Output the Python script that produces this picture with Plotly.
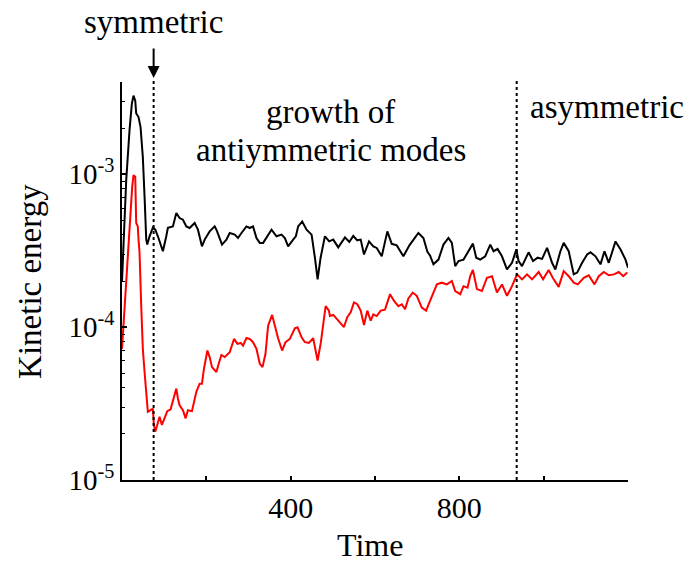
"""
Kinetic energy vs time: total (black) and antisymmetric part (red), log scale.
"""

import plotly.graph_objects as go

# energies are stored in units of 1e-4
ENERGY_UNIT = 1e-4

time_total = [
    0, 10.0, 17.8, 23.3, 27.3, 31.4, 33.7, 39.2, 44.0, 49.4, 53.5, 57.5, 59.9,
    65.4, 73.2, 78.9, 85.1, 97.0, 105.0, 108.8, 120.7, 128.8, 136.6, 144.5,
    152.6, 160.4, 172.3, 180.1, 189.6, 196.1, 207.9, 219.8, 223.9, 231.7,
    237.2, 247.6, 255.5, 267.3, 275.2, 283.3, 295.1, 303.0, 310.8, 318.9,
    326.8, 334.6, 346.5, 354.6, 366.4, 378.3, 386.2, 394.0, 405.9, 412.3,
    417.8, 427.3, 437.7, 449.6, 457.5, 463.9, 471.0, 481.2, 491.4, 501.0,
    512.8, 528.8, 539.0, 548.5, 558.0, 566.1, 573.9, 585.8, 596.0, 604.1,
    616.0, 629.3, 639.7, 651.6, 667.3, 681.6, 692.7, 702.9, 714.8, 724.3,
    730.7, 738.6, 750.5, 762.3, 774.2, 782.3, 790.2, 798.0, 809.9, 821.8,
    832.2, 840.1, 849.6, 861.4, 873.3, 881.2, 890.7, 901.1, 913.0, 924.9,
    935.1, 940.6, 948.6, 964.3, 974.8, 985.7, 996.2, 1008.1, 1019.9, 1027.8,
    1039.7, 1047.5, 1059.4, 1071.3, 1079.4, 1091.2, 1103.1, 1111.0, 1122.9,
    1134.7, 1144.2, 1154.4, 1170.4, 1182.3, 1194.1, 1200.0,
]
ke_total = [
    1.99, 9.14, 19.3, 28.8, 32.6, 30.2, 24.9, 23.6, 20.3, 12.9, 7.12, 3.73, 3.46,
    3.92, 4.46, 4.33, 3.92, 3.13, 3.92, 4.46, 4.55, 5.56, 5.16, 5.03,
    4.55, 4.44, 4.79, 4.33, 3.37, 3.73, 4.22, 4.55, 4.33, 3.73,
    3.46, 3.73, 4.12, 4.02, 3.82, 4.12, 4.55, 4.44, 4.55, 3.82,
    3.55, 3.55, 4.02, 4.33, 3.92, 4.02, 3.82, 3.37, 3.73, 3.92,
    4.55, 4.90, 4.33, 4.02, 2.84, 2.05, 2.84, 3.92, 3.63, 3.73,
    3.32, 3.86, 3.60, 3.94, 3.69, 3.73, 2.98, 3.63, 3.37, 3.29,
    2.90, 4.22, 3.50, 3.42, 2.90, 3.42, 3.77, 4.12, 3.82, 3.10,
    2.93, 2.57, 2.76, 3.46, 3.82, 3.55, 2.50, 2.70, 2.76, 3.13,
    3.51, 2.84, 2.76, 2.90, 3.46, 3.13, 3.24, 2.90, 2.38, 2.63,
    3.21, 2.70, 2.50, 3.08, 2.70, 2.84, 2.79, 3.29, 2.63, 2.38,
    3.13, 3.55, 3.13, 2.21, 2.27, 2.63, 2.98, 3.08, 2.90,
    2.57, 3.13, 2.63, 3.63, 3.21, 2.76, 2.44,
]

time_anti = [
    0, 7.1, 13.8, 20.2, 24.2, 27.3, 31.4, 33.7, 37.5, 39.2, 41.6, 45.6, 49.4,
    53.5, 57.5, 61.3, 67.7, 73.2, 75.6, 78.9, 83.6, 89.1, 94.6, 101.0, 107.4,
    115.3, 123.1, 128.8, 132.6, 136.6, 144.5, 150.9, 156.4, 165.9, 176.3,
    184.2, 189.6, 194.4, 202.5, 207.9, 213.4, 223.9, 229.3, 235.7, 243.6,
    255.5, 265.7, 273.8, 281.6, 287.1, 295.1, 303.0, 310.8, 318.9, 326.8,
    333.2, 340.3, 346.5, 356.0, 362.4, 370.2, 379.7, 387.8, 398.0, 409.9,
    416.3, 425.9, 433.7, 443.2, 453.4, 459.1, 463.9, 471.7, 482.9, 490.7,
    493.1, 501.0, 509.1, 516.9, 526.4, 534.2, 542.3, 550.1, 558.0, 566.1,
    573.9, 581.7, 589.8, 596.0, 604.1, 613.6, 623.8, 635.7, 645.2, 655.4,
    663.5, 671.3, 679.2, 689.6, 699.1, 711.0, 721.2, 729.1, 738.6, 746.7,
    758.5, 770.4, 782.3, 790.2, 802.1, 809.9, 819.4, 825.8, 832.2, 841.7,
    853.6, 865.5, 877.4, 889.2, 901.1, 913.0, 924.9, 936.8, 948.6, 960.5,
    972.4, 988.1, 998.6, 1011.8, 1023.7, 1035.6, 1047.5, 1059.4, 1071.3,
    1080.8, 1095.1, 1106.9, 1120.5, 1130.7, 1142.6, 1154.4, 1166.3, 1178.2,
    1188.6, 1198.2,
]
ke_anti = [
    0.72, 1.52, 2.90, 5.56, 8.27, 9.85, 9.60, 4.79, 4.55, 3.73, 3.07, 1.37, 0.72,
    0.508, 0.358, 0.279, 0.286, 0.293, 0.229, 0.207, 0.229, 0.259, 0.229, 0.253, 0.282,
    0.290, 0.350, 0.396, 0.341, 0.308, 0.286, 0.253, 0.286, 0.282, 0.377,
    0.426, 0.426, 0.534, 0.702, 0.636, 0.547, 0.508, 0.575, 0.657, 0.636,
    0.685, 0.836, 0.776, 0.787, 0.756, 0.848, 0.836, 0.796, 0.72, 0.575,
    0.547, 0.668, 1.02, 1.20, 1.02, 0.845, 0.702, 0.796, 0.836, 0.981,
    0.996, 0.857, 0.796, 0.787, 0.845, 0.685, 0.604, 0.796, 1.37, 1.28,
    1.18, 1.20, 1.13, 1.08, 1.00, 1.16, 1.25, 1.45, 1.41, 1.28,
    1.03, 1.28, 1.10, 1.21, 1.18, 1.28, 1.30, 1.64, 1.48, 1.37,
    1.41, 1.31, 1.54, 1.68, 1.60, 1.34, 1.28, 1.45, 1.69, 1.90,
    1.95, 1.90, 2.00, 1.72, 1.64, 1.85, 1.81, 2.15, 2.36, 1.77,
    1.72, 2.10, 2.15, 1.68, 1.90, 1.60, 1.85, 2.21, 2.05, 2.21,
    2.05, 2.29, 2.05, 2.36, 2.05, 1.83, 2.32, 2.15, 1.95,
    1.90, 2.10, 2.18, 1.90, 2.15, 2.29, 2.18, 2.21, 2.29,
    2.15, 2.27,
]

# regime boundaries (time)
t_symmetric_end = 75
t_asymmetric_start = 936

x_tickvals = [400, 800]
x_ticktext = ["400", "800"]
x_minor = [200, 600, 1000, 1200]
y_tickvals = [1e-5, 1e-4, 1e-3]
y_ticktext = ["10<sup>-5</sup>", "10<sup>-4</sup>", "10<sup>-3</sup>"]
y_minor = [m * 10.0 ** e for e in (-5, -4, -3) for m in range(2, 10) if m * 10.0 ** e <= 4e-3]

FONT = "Liberation Serif"

fig = go.Figure()
fig.add_trace(go.Scatter(
    x=time_total, y=[v * ENERGY_UNIT for v in ke_total],
    mode="lines", line=dict(color="black", width=2), showlegend=False,
))
fig.add_trace(go.Scatter(
    x=time_anti, y=[v * ENERGY_UNIT for v in ke_anti],
    mode="lines", line=dict(color="#ff0000", width=2), showlegend=False,
))

for t in (t_symmetric_end, t_asymmetric_start):
    fig.add_shape(type="line", xref="x", yref="paper", x0=t, x1=t, y0=0, y1=1.01,
                  line=dict(color="black", width=2, dash="dot"))

# "symmetric" with its arrow down to the first boundary
fig.add_annotation(text="symmetric", x=t_symmetric_end, y=1.01, xref="x", yref="paper",
                   showarrow=True, ax=0, ay=-56, arrowhead=2, arrowsize=1.2,
                   arrowwidth=2, arrowcolor="black", startstandoff=7,
                   font=dict(family=FONT, size=33, color="black"))

annots = [
    dict(text="growth of", x=495, y=0.925),
    dict(text="antiymmetric modes", x=495, y=0.829),
    dict(text="asymmetric", x=1151, y=0.937),
]
for a in annots:
    fig.add_annotation(text=a["text"], x=a["x"], y=a["y"], xref="x", yref="paper",
                       showarrow=False, xanchor="center", yanchor="middle",
                       font=dict(family=FONT, size=33, color="black"))

# axis titles
fig.add_annotation(text="Kinetic energy", x=-0.182, y=0.5, xref="paper", yref="paper",
                   showarrow=False, textangle=-90, xanchor="center", yanchor="middle",
                   font=dict(family=FONT, size=33, color="black"))
fig.add_annotation(text="Time", x=0.49, y=-0.163, xref="paper", yref="paper",
                   showarrow=False, xanchor="center", yanchor="middle",
                   font=dict(family=FONT, size=32, color="black"))

fig.update_xaxes(
    range=[0, 1200], tickmode="array", tickvals=x_tickvals, ticktext=x_ticktext,
    ticks="inside", ticklen=4, tickwidth=1.5, tickcolor="black",
    showline=True, linecolor="black", linewidth=1.5, showgrid=False, zeroline=False,
    tickfont=dict(family=FONT, size=30, color="black"),
    minor=dict(tickmode="array", tickvals=x_minor, ticks="inside", ticklen=4,
               tickwidth=1.5, tickcolor="black", showgrid=False),
)
fig.update_yaxes(
    type="log", range=[-5, -2.398], tickmode="array", tickvals=y_tickvals,
    ticktext=y_ticktext, ticks="inside", ticklen=5, tickwidth=1.5, tickcolor="black",
    showline=True, linecolor="black", linewidth=1.5, showgrid=False, zeroline=False,
    tickfont=dict(family=FONT, size=29, color="black"),
    minor=dict(tickmode="array", tickvals=y_minor, ticks="inside", ticklen=3,
               tickwidth=1, tickcolor="black", showgrid=False),
)

# page body has an 8px margin, so the figure is sized to fit inside the window
fig.update_layout(
    width=686, height=554,
    margin=dict(l=114, r=66, t=74, b=82),
    plot_bgcolor="white", paper_bgcolor="white",
    font=dict(family=FONT, color="black"),
)

fig.write_html("out.html")
